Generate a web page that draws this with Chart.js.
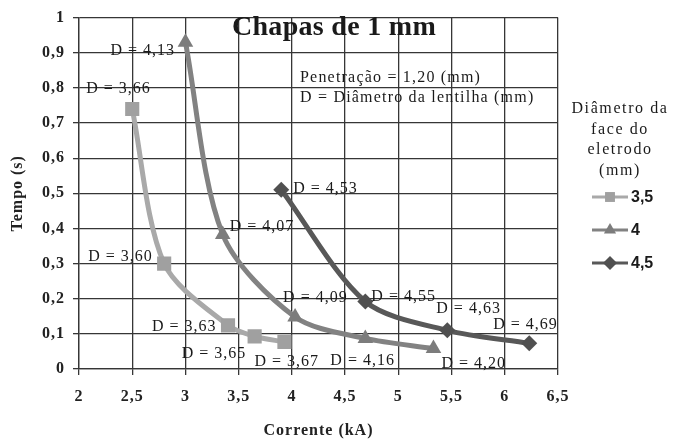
<!DOCTYPE html>
<html>
<head>
<meta charset="utf-8">
<script src="https://cdn.jsdelivr.net/npm/chart.js"></script>
<style>
  body { margin: 0; background: #fff; }
  #wrap { width: 673px; height: 439px; }
</style>
</head>
<body>
<div id="wrap"><canvas id="chart" width="673" height="439"></canvas></div>
<script>
// --- Data ---
const seriesNames = ['3,5', '4', '4,5'];

const current35 = [2.5, 2.8, 3.4, 3.65, 3.93];
const time35 = [0.74, 0.30, 0.124, 0.093, 0.077];
const lens35 = ['3,66', '3,60', '3,63', '3,65', '3,67'];

const current40 = [3.0, 3.35, 4.03, 4.69, 5.33];
const time40 = [0.93, 0.383, 0.148, 0.087, 0.058];
const lens40 = ['4,13', '4,07', '4,09', '4,16', '4,20'];

const current45 = [3.9, 4.69, 5.46, 6.23];
const time45 = [0.51, 0.192, 0.11, 0.073];
const lens45 = ['4,53', '4,55', '4,63', '4,69'];

const xTicks = [2, 2.5, 3, 3.5, 4, 4.5, 5, 5.5, 6, 6.5];
const yTicks = [0, 0.1, 0.2, 0.3, 0.4, 0.5, 0.6, 0.7, 0.8, 0.9, 1];

const chartTitle = 'Chapas de 1 mm';
const noteLines = ['Penetração = 1,20 (mm)', 'D = Diâmetro da lentilha (mm)'];
const legendTitle = ['Diâmetro da', 'face do', 'eletrodo', '(mm)'];

// label offsets from each point (text left edge, middle)
const labelOffsets = [
    [[-46, -20], [-76, -7], [-76, 1], [-73, 17], [-30, 20]],
    [[-75, 9], [7, -8], [-12, -19], [-35, 22], [8, 15]],
    [[12, -1], [6, -5], [-11, -22], [-36, -19]]
];

function toPoints(xs, ys){
    return xs.map((x, i) => ({x: x, y: ys[i]}));
}

function fmt(v){
    return String(Math.round(v * 10) / 10).replace('.', ',');
}

const serif = '"Liberation Serif", "Times New Roman", serif';
const gridColor = '#363636';

const datasets = [
    {label: seriesNames[0], data: toPoints(current35, time35), lens: lens35,
     borderColor: '#a9a9a9', backgroundColor: '#a0a0a0', pointStyle: 'rect', pointRadius: 10},
    {label: seriesNames[1], data: toPoints(current40, time40), lens: lens40,
     borderColor: '#828282', backgroundColor: '#7c7c7c', pointStyle: 'triangle', pointRadius: 9},
    {label: seriesNames[2], data: toPoints(current45, time45), lens: lens45,
     borderColor: '#585858', backgroundColor: '#505050', pointStyle: 'rectRot', pointRadius: 8}
];
datasets.forEach(d => {
    d.borderWidth = 5;
    d.pointBorderWidth = 0;
    d.pointBorderColor = d.backgroundColor;
    d.tension = 0.3;
    d.fill = false;
});

// --- Plugins ---
function drawMarker(ctx, style, x, y, r, color){
    ctx.save();
    ctx.fillStyle = color;
    ctx.beginPath();
    if (style === 'rect'){
        let s = r * Math.SQRT1_2;
        ctx.rect(x - s, y - s, 2 * s, 2 * s);
    } else if (style === 'triangle'){
        ctx.moveTo(x, y - r);
        ctx.lineTo(x + r * 0.87, y + r * 0.5);
        ctx.lineTo(x - r * 0.87, y + r * 0.5);
        ctx.closePath();
    } else {
        ctx.moveTo(x, y - r);
        ctx.lineTo(x + r, y);
        ctx.lineTo(x, y + r);
        ctx.lineTo(x - r, y);
        ctx.closePath();
    }
    ctx.fill();
    ctx.restore();
}

const textPlugin = {
    id: 'texts',
    beforeDraw(chart){
        // wider lettering for axis ticks and titles
        chart.ctx.letterSpacing = '1px';
    },
    beforeDatasetsDraw(chart){
        const ctx = chart.ctx;
        ctx.save();
        ctx.fillStyle = '#1a1a1a';
        ctx.textBaseline = 'middle';
        ctx.textAlign = 'center';
        ctx.font = 'bold 28px ' + serif;
        ctx.letterSpacing = '0.3px';
        ctx.fillText(chartTitle, 334, 28);

        ctx.textAlign = 'left';
        ctx.font = '16px ' + serif;
        ctx.letterSpacing = '1.2px';
        noteLines.forEach((t, i) => ctx.fillText(t, 300, 78 + i * 20));
        ctx.restore();
    },
    afterDatasetsDraw(chart){
        const ctx = chart.ctx;
        ctx.save();
        ctx.fillStyle = '#1a1a1a';
        ctx.textBaseline = 'middle';
        ctx.textAlign = 'left';
        ctx.font = '16px ' + serif;
        ctx.letterSpacing = '1px';
        chart.data.datasets.forEach((ds, di) => {
            const meta = chart.getDatasetMeta(di);
            meta.data.forEach((pt, i) => {
                const off = labelOffsets[di][i];
                ctx.fillText('D = ' + ds.lens[i], pt.x + off[0], pt.y + off[1]);
            });
        });
        ctx.restore();
    },
    afterDraw(chart){
        const ctx = chart.ctx;
        ctx.save();
        ctx.fillStyle = '#1a1a1a';
        ctx.textBaseline = 'middle';
        ctx.textAlign = 'center';
        ctx.font = '16px ' + serif;
        ctx.letterSpacing = '1.6px';
        legendTitle.forEach((t, i) => ctx.fillText(t, 620, 109 + i * 20.5));

        ctx.textAlign = 'left';
        ctx.font = 'bold 16px "Liberation Sans", Arial, sans-serif';
        ctx.letterSpacing = '0px';
        chart.data.datasets.forEach((ds, i) => {
            const y = 197 + i * 33;
            ctx.strokeStyle = ds.borderColor;
            ctx.lineWidth = 3;
            ctx.beginPath();
            ctx.moveTo(592, y);
            ctx.lineTo(628, y);
            ctx.stroke();
            drawMarker(ctx, ds.pointStyle, 610, y, 7, ds.backgroundColor);
            ctx.fillStyle = '#1a1a1a';
            ctx.fillText(ds.label, 631, y + 1);
        });
        ctx.restore();
        ctx.letterSpacing = '0px';
    }
};

// --- Chart ---
new Chart(document.getElementById('chart'), {
    type: 'line',
    data: {datasets: datasets},
    options: {
        responsive: false,
        animation: false,
        layout: {padding: {left: 0, right: 115, top: 15, bottom: 0}},
        plugins: {legend: {display: false}, tooltip: {enabled: false}},
        scales: {
            x: {
                type: 'linear', min: 2, max: 6.5,
                afterFit: s => { s.height = 70; },
                afterBuildTicks: s => { s.ticks = xTicks.map(v => ({value: v})); },
                grid: {color: gridColor, lineWidth: 1.3, tickLength: 6},
                border: {color: gridColor, width: 1.3},
                ticks: {padding: 12, color: '#222', font: {family: serif, size: 16, weight: 'bold'}, callback: v => fmt(v)},
                title: {display: true, text: 'Corrente (kA)', color: '#222',
                        font: {family: serif, size: 16, weight: 'bold', lineHeight: 1}, padding: {top: 0, bottom: 0}}
            },
            y: {
                min: 0, max: 1,
                afterFit: s => { s.width = 79; },
                afterBuildTicks: s => { s.ticks = yTicks.map(v => ({value: v})); },
                grid: {color: gridColor, lineWidth: 1.3, tickLength: 6},
                border: {color: gridColor, width: 1.3},
                ticks: {padding: 8, color: '#222', font: {family: serif, size: 16, weight: 'bold'}, callback: v => fmt(v)},
                title: {display: true, text: 'Tempo (s)', color: '#222',
                        font: {family: serif, size: 16, weight: 'bold', lineHeight: 1}, padding: {top: 10, bottom: 0}}
            }
        }
    },
    plugins: [textPlugin]
});
</script>
</body>
</html>
